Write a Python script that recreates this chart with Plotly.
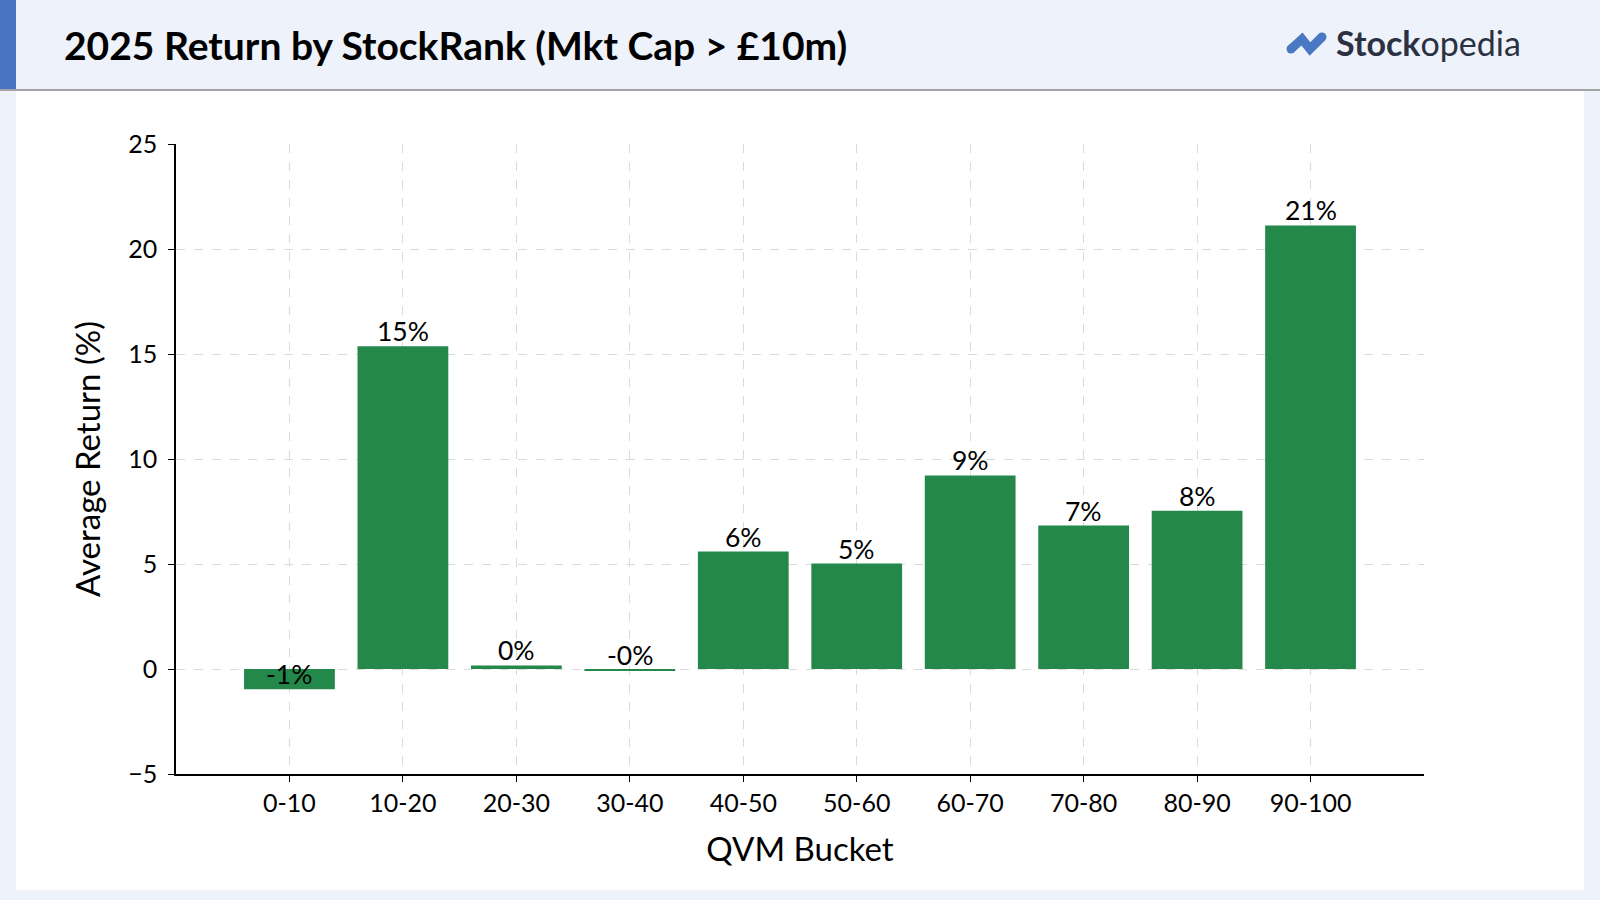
import plotly.graph_objects as go

# ---- data ----
buckets = ["0-10", "10-20", "20-30", "30-40", "40-50", "50-60", "60-70", "70-80", "80-90", "90-100"]
avg_return = [-0.97, 15.37, 0.17, -0.05, 5.59, 5.02, 9.22, 6.83, 7.54, 21.12]
bar_labels = [f"{v:.0f}%" for v in avg_return]
y_ticks = [-5, 0, 5, 10, 15, 20, 25]

title_text = "2025 Return by StockRank (Mkt Cap > £10m)"
x_title = "QVM Bucket"
y_title = "Average Return (%)"

# ---- layout geometry (pixels) ----
W, H = 1600, 900
L, R, T, B = 176, 1424, 144, 774
PW, PH = R - L, B - T


def px(x):
    return (x - L) / PW


def py(y):
    return (B - y) / PH


GREEN = "#23884A"
BLUE = "#4A78C2"
BG = "#EEF2FA"
FONT = "Lato"
INK = "#000000"

fig = go.Figure()
fig.add_trace(go.Bar(
    x=buckets, y=avg_return, width=0.8,
    marker=dict(color=GREEN, line=dict(width=0)),
    hoverinfo="x+y", showlegend=False,
))

shapes = [
    # white panel
    dict(type="rect", xref="paper", yref="paper", x0=px(16), x1=px(1584), y0=py(91), y1=py(890),
         fillcolor="white", line=dict(width=0), layer="below"),
    # header band
    dict(type="rect", xref="paper", yref="paper", x0=px(0), x1=px(1600), y0=py(0), y1=py(90),
         fillcolor=BG, line=dict(width=0), layer="below"),
    # left accent bar
    dict(type="rect", xref="paper", yref="paper", x0=px(0), x1=px(16), y0=py(0), y1=py(89),
         fillcolor="#4773C0", line=dict(width=0), layer="above"),
    # header divider
    dict(type="line", xref="paper", yref="paper", x0=px(0), x1=px(1600), y0=py(90), y1=py(90),
         line=dict(color="#8A8A8A", width=1.5), layer="above"),
]

# logo icon
icon_pts = [(1291, 49), (1302, 39), (1310, 49), (1322, 37)]
path = "M " + " L ".join(f"{px(x)},{py(y)}" for x, y in icon_pts)
shapes.append(dict(type="path", xref="paper", yref="paper", path=path,
                   line=dict(color=BLUE, width=9), layer="above"))
for (x, y) in (icon_pts[0], icon_pts[-1]):
    r = 4.5
    shapes.append(dict(type="circle", xref="paper", yref="paper",
                       x0=px(x - r), x1=px(x + r), y0=py(y + r), y1=py(y - r),
                       fillcolor=BLUE, line=dict(width=0), layer="above"))

annotations = [
    dict(text=f"<b>{title_text}</b>", xref="paper", yref="paper", x=px(62), y=py(45),
         xanchor="left", yanchor="middle", showarrow=False,
         font=dict(family=FONT, size=39, color=INK)),
    dict(text="<b>Stock</b>opedia", xref="paper", yref="paper", x=px(1334), y=py(43),
         xanchor="left", yanchor="middle", showarrow=False,
         font=dict(family=FONT, size=34, color="#2B3142")),
]

for b, v, lab in zip(buckets, avg_return, bar_labels):
    annotations.append(dict(text=lab, x=b, y=v, xref="x", yref="y",
                            xanchor="center", yanchor="bottom", showarrow=False, yshift=-3,
                            font=dict(family=FONT, size=26.5, color=INK)))

fig.update_layout(
    width=W, height=H,
    margin=dict(l=L, r=W - R, t=T, b=H - B, pad=0),
    paper_bgcolor=BG, plot_bgcolor="white",
    font=dict(family=FONT, color=INK),
    shapes=shapes, annotations=annotations,
    bargap=0.2,
)

fig.update_xaxes(
    type="category", range=[-1, 10],
    showline=True, linecolor="black", linewidth=1.5,
    ticks="outside", ticklen=6, tickwidth=1.2, tickcolor="black",
    showgrid=True, gridcolor="#DADADA", griddash="dash", gridwidth=1,
    tickfont=dict(family=FONT, size=25, color=INK),
    title=dict(text=x_title, font=dict(family=FONT, size=33, color=INK), standoff=22),
    layer="above traces", automargin=False,
)
fig.update_yaxes(
    range=[-5, 25], tickvals=y_ticks,
    showline=True, linecolor="black", linewidth=1.5,
    ticks="outside", ticklen=6, tickwidth=1.2, tickcolor="black",
    ticklabelstandoff=6,
    showgrid=True, gridcolor="#DADADA", griddash="dash", gridwidth=1,
    zeroline=False,
    tickfont=dict(family=FONT, size=25, color=INK),
    title=dict(text=y_title, font=dict(family=FONT, size=33, color=INK), standoff=18),
    layer="above traces", automargin=False,
)

fig.write_html("out.html",
               config={"displayModeBar": False},
               post_script="document.body.style.margin='0';document.body.style.padding='0';")
